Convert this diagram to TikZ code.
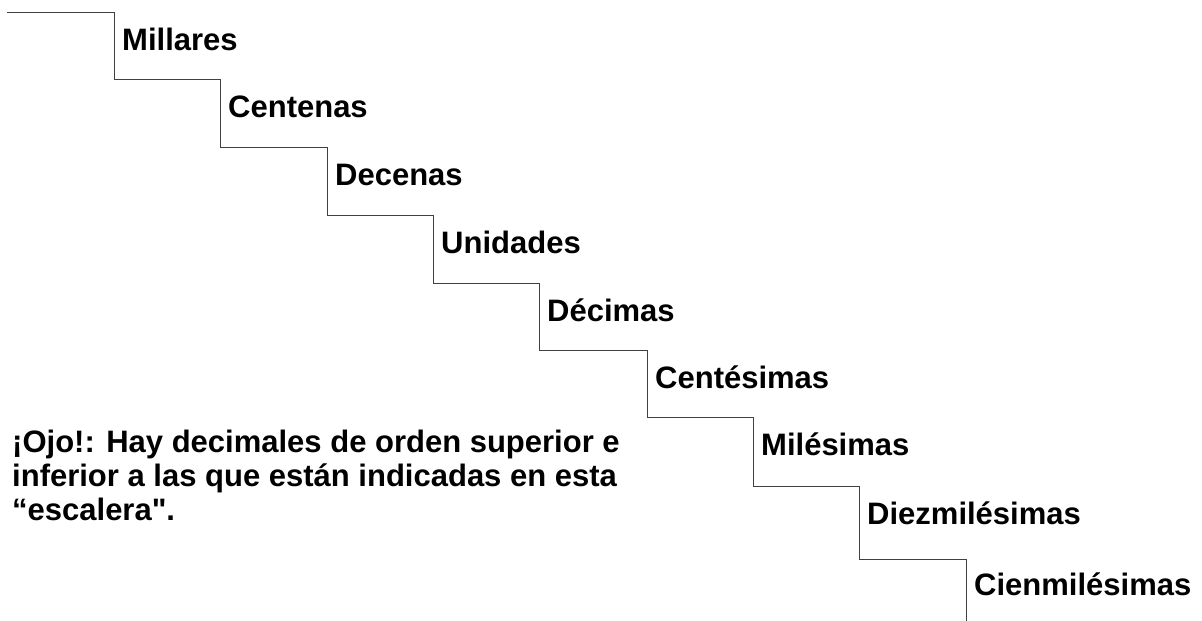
\documentclass[tikz,border=0pt]{standalone}
\usepackage{fontspec}
\setmainfont{Liberation Sans}[Ligatures=TeXOff]
\begin{document}
\begin{tikzpicture}[x=1pt,y=-1pt,
  lbl/.style={anchor=base west,inner sep=0pt,font=\bfseries\fontsize{31}{35}\selectfont},
  stair/.style={line width=1pt,draw=black!75}]
\useasboundingbox (0,0) rectangle (1202,621);
% staircase
\draw[stair] (7,12) -| (114,79) -| (220,147) -| (327,215) -| (433,283) -| (539,350)
  -| (647,417) -| (753,486) -| (859,559) -| (966,621);
% labels
\node[lbl] (l1) at (122,50) {Millares};
\node[lbl] (l2) at (228,117) {Centenas};
\node[lbl] (l3) at (335,185) {Decenas};
\node[lbl] (l4) at (441,253) {Unidades};
\node[lbl] (l5) at (547,321) {Décimas};
\node[lbl] (l6) at (655,388) {Centésimas};
\node[lbl] (l7) at (761,455) {Milésimas};
\node[lbl] (l8) at (867,524) {Diezmilésimas};
\node[lbl] (l9) at (974,595) {Cienmilésimas};
% note
\node[anchor=north west,inner sep=0pt,align=left,font=\bfseries\fontsize{31}{34}\selectfont] (note) at (12,430)
 {¡Ojo!: Hay decimales de orden superior e\\inferior a las que están indicadas en esta\\“escalera".};
\end{tikzpicture}
\end{document}
